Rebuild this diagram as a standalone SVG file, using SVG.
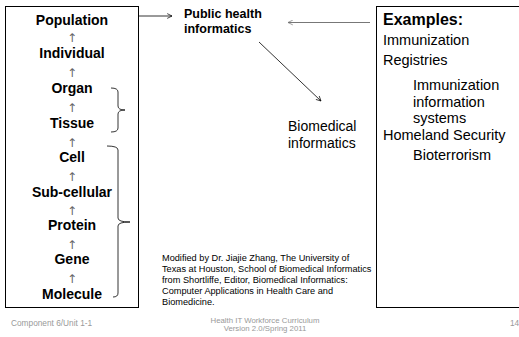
<svg xmlns="http://www.w3.org/2000/svg" width="519" height="337" viewBox="0 0 519 337">
<style>
.b{font-family:"Liberation Sans",Arial,sans-serif;font-weight:bold;font-size:14px;fill:#000;text-anchor:middle}
.ar{font-family:"DejaVu Sans",sans-serif;font-size:12px;fill:#666;text-anchor:middle}
.n{font-family:"Liberation Sans",Arial,sans-serif;font-size:14.5px;fill:#000}
.s{font-family:"Liberation Sans",Arial,sans-serif;font-size:9.2px;fill:#000}
.f{font-family:"Liberation Sans",Arial,sans-serif;font-size:7.8px;fill:#999}
.box{fill:#fff;stroke:#000;stroke-width:1}
.ln{fill:none;stroke:#000;stroke-width:0.8}
</style>
<defs>
<marker id="oa" viewBox="0 0 10 10" refX="9" refY="5" markerWidth="6" markerHeight="6" orient="auto" markerUnits="userSpaceOnUse">
<path d="M1,1 L9,5 L1,9" fill="none" stroke="#000" stroke-width="1.2"/>
</marker>
<marker id="og" viewBox="0 0 10 10" refX="9" refY="5" markerWidth="6" markerHeight="6" orient="auto" markerUnits="userSpaceOnUse">
<path d="M1,1 L9,5 L1,9" fill="none" stroke="#777" stroke-width="1.2"/>
</marker>
</defs>
<g id="levels">
<rect class="box" x="5.5" y="6.5" width="133" height="301"/>
<text class="b" x="72" y="25">Population</text>
<text class="ar" x="72" y="42">↑</text>
<text class="b" x="72" y="58">Individual</text>
<text class="ar" x="72" y="77">↑</text>
<text class="b" x="72" y="93">Organ</text>
<text class="ar" x="72" y="112">↑</text>
<text class="b" x="72" y="128">Tissue</text>
<text class="ar" x="72" y="147">↑</text>
<text class="b" x="72" y="162">Cell</text>
<text class="ar" x="72" y="181">↑</text>
<text class="b" x="72" y="197">Sub-cellular</text>
<text class="ar" x="72" y="215">↑</text>
<text class="b" x="72" y="230">Protein</text>
<text class="ar" x="72" y="249">↑</text>
<text class="b" x="72" y="264">Gene</text>
<text class="ar" x="72" y="283">↑</text>
<text class="b" x="72" y="299">Molecule</text>
</g>
<g id="braces">
<path class="ln" d="M111,88 Q118,88 118,92 L118,106 Q118,110 125,110 Q118,110 118,114 L118,128 Q118,132 111,132"/>
<path class="ln" d="M107,146 Q118,146 118,150 L118,218 Q118,222 130,222 Q118,222 118,226 L118,293 Q118,297 113,297"/>
</g>
<g id="public-health">
<text class="b" style="font-size:12.5px;text-anchor:start" x="184" y="18">Public health</text>
<text class="b" style="font-size:12.5px;text-anchor:start" x="184" y="33">informatics</text>
</g>
<g id="biomedical">
<text class="n" style="font-size:14px" x="288" y="131">Biomedical</text>
<text class="n" style="font-size:14px" x="288" y="148">informatics</text>
</g>
<g id="examples">
<rect class="box" x="376.5" y="6.5" width="160" height="301"/>
<text class="n" style="font-weight:bold;font-size:16px" x="383" y="25">Examples:</text>
<text class="n" x="383" y="45">Immunization</text>
<text class="n" x="383" y="65">Registries</text>
<text class="n" x="413" y="90">Immunization</text>
<text class="n" x="413" y="107">information</text>
<text class="n" x="413" y="123">systems</text>
<text class="n" x="383" y="140">Homeland Security</text>
<text class="n" x="413" y="160">Bioterrorism</text>
</g>
<g id="connectors">
<line class="ln" x1="139" y1="16" x2="172" y2="16" marker-end="url(#oa)"/>
<line x1="370" y1="22.5" x2="288" y2="22.5" stroke="#777" stroke-width="1" marker-end="url(#og)"/>
<line class="ln" x1="259" y1="42" x2="321" y2="101" marker-end="url(#oa)"/>
</g>
<g id="credit">
<text class="s" x="162" y="261">Modified by Dr. Jiajie Zhang, The University of</text>
<text class="s" x="162" y="272">Texas at Houston, School of Biomedical Informatics</text>
<text class="s" x="162" y="283">from Shortliffe, Editor, Biomedical Informatics:</text>
<text class="s" x="162" y="294">Computer Applications  in Health Care and</text>
<text class="s" x="162" y="305">Biomedicine.</text>
</g>
<g id="footer">
<text class="f" style="font-size:8.3px" x="11" y="326">Component 6/Unit 1-1</text>
<text class="f" x="265" y="322.5" text-anchor="middle">Health IT Workforce Curriculum</text>
<text class="f" x="265" y="331" text-anchor="middle">Version 2.0/Spring 2011</text>
<text class="f" style="font-size:8.3px" x="510" y="326">14</text>
</g>
</svg>
